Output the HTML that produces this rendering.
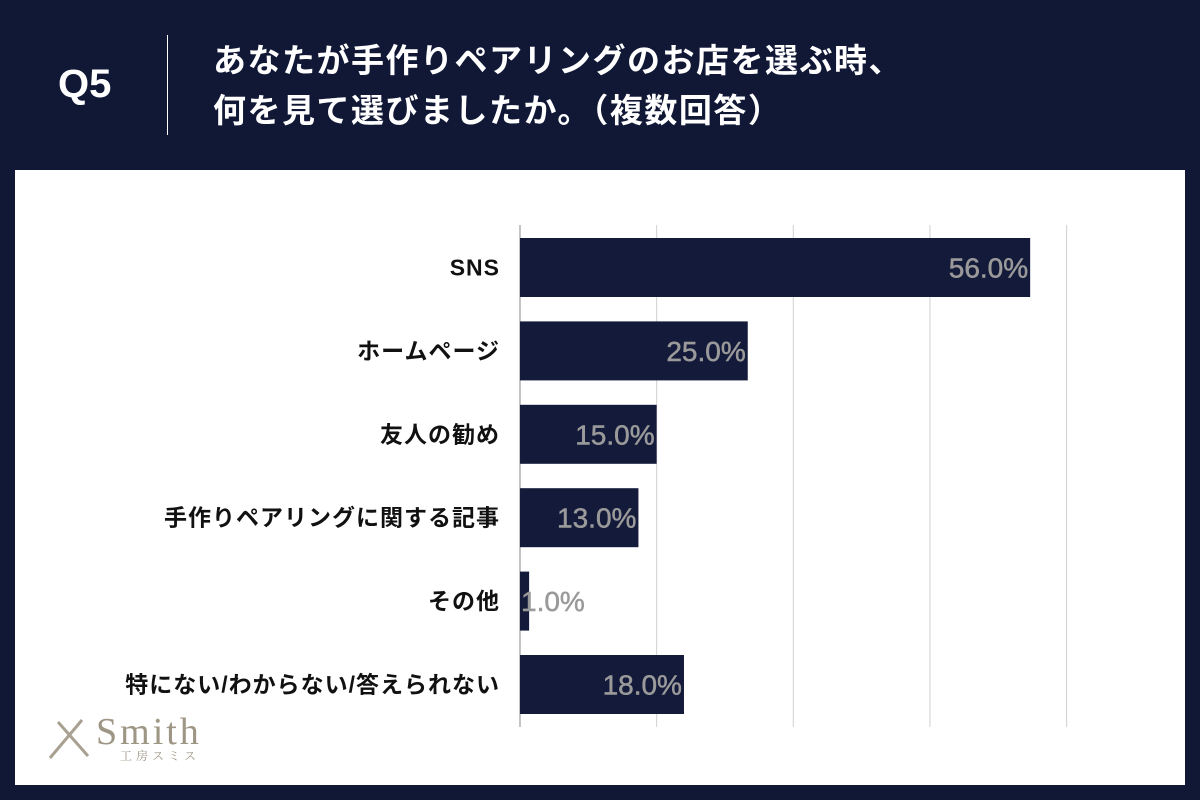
<!DOCTYPE html>
<html><head><meta charset="utf-8">
<style>
body{margin:0;width:1200px;height:800px;background:#111836;overflow:hidden;font-family:"Liberation Sans","Noto Sans CJK JP",sans-serif;}
.q{position:absolute;left:58px;top:62px;color:#fff;font-size:40px;font-weight:bold;}
.div{position:absolute;left:167px;top:35px;width:1px;height:100px;background:#fff;}
.t{position:absolute;left:213px;top:36px;color:#fff;font-size:33px;font-weight:bold;line-height:50px;letter-spacing:1.5px;}
.panel{position:absolute;left:15px;top:170px;width:1170px;height:615px;background:#fff;}
svg{position:absolute;left:0;top:0;}
</style></head><body>
<div class="q">Q5</div>
<div class="div"></div>
<div class="t">あなたが手作りペアリングのお店を選ぶ時、<br>何を見て選びましたか。（複数回答）</div>
<div class="panel"></div>
<svg id="c" width="1200" height="800">
<g>
<line x1="50" y1="758" x2="82" y2="720" stroke="#a8a090" stroke-width="3"/>
<line x1="58" y1="722" x2="88" y2="756" stroke="#a8a090" stroke-width="3"/>
<text x="96" y="744" font-family="Liberation Serif, serif" font-size="38" fill="#9e9684" letter-spacing="3">Smith</text>
<text x="120" y="760" font-family="Noto Serif CJK SC, serif" font-size="12" fill="#9e9684" letter-spacing="4">工房スミス</text>
</g>
</svg>
<script>
const categories=["SNS","ホームページ","友人の勧め","手作りペアリングに関する記事","その他","特にない/わからない/答えられない"];
const values=[56.0,25.0,15.0,13.0,1.0,18.0];
const ticks=[0,15,30,45,60];
const svg=document.getElementById('c');
const NS='http://www.w3.org/2000/svg';
const x0=520,pxPer=9.11,y0=238,step=83.4,bh=59;
const xs=v=>x0+v*pxPer;
function mk(t,a){const e=document.createElementNS(NS,t);for(const k in a)e.setAttribute(k,a[k]);svg.appendChild(e);return e;}
ticks.forEach((t,i)=>{
 const l=mk('line',{x1:xs(t),x2:xs(t),y1:225,y2:727,stroke:i==0?'#888':'#d0d0d0','stroke-width':1});
 
 
});
categories.forEach((c,i)=>{
 const y=y0+i*step;
 const r=mk('rect',{x:x0,y:y,width:xs(values[i])-x0,height:bh,fill:'#141a3a'});
 
 
 const lb=mk('text',{x:500,y:y+bh/2+8,'text-anchor':'end','font-size':23,'font-weight':'bold',fill:'#111','letter-spacing':1});
 lb.textContent=c;
 
 
 const w=xs(values[i])-x0;
 const vl=mk('text',{x:w>80?xs(values[i])-2:x0+1,y:y+bh/2+10,'text-anchor':w>80?'end':'start','font-size':28,fill:'#9a9a9a','stroke':'#9a9a9a','stroke-width':0.5});
 vl.textContent=values[i].toFixed(1)+'%';
 
 
});
</script>
</body></html>
